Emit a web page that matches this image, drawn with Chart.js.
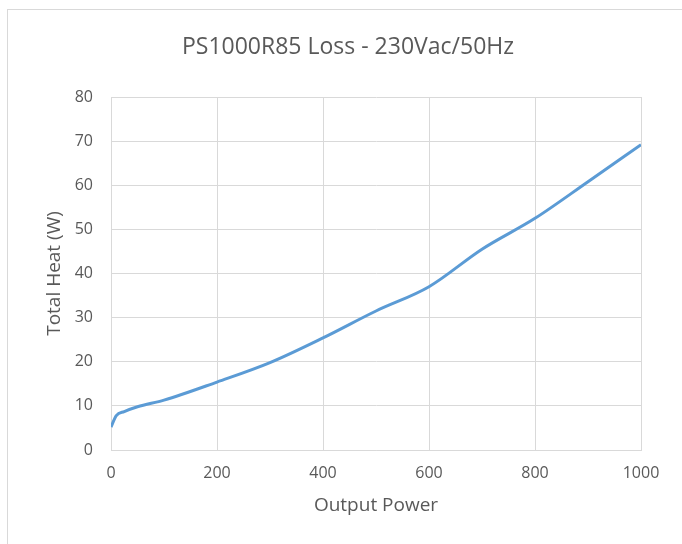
<!DOCTYPE html>
<html><head><meta charset="utf-8">
<script src="https://cdn.jsdelivr.net/npm/chart.js@4"></script>
<style>
html,body{margin:0;padding:0;background:#fff;width:682px;height:544px;overflow:hidden}
#frame{position:absolute;left:7px;top:9px;width:700px;height:560px;border:1px solid #d9d9d9;box-sizing:border-box}
#wrap{position:absolute;left:0;top:0;width:682px;height:544px}
</style></head><body>
<div id="frame"></div>
<div id="wrap"><canvas id="c" width="682" height="544"></canvas></div>
<script>
const outputPower = [0, 10, 25, 50, 100, 200, 300, 400, 500, 600, 700, 800, 900, 1000];
const totalHeat   = [5.2, 7.8, 8.7, 9.8, 11.3, 15.4, 19.8, 25.4, 31.5, 37.0, 45.5, 52.5, 60.8, 69.2];
const xTicks = [0, 200, 400, 600, 800, 1000];
const yTicks = [0, 10, 20, 30, 40, 50, 60, 70, 80];
const FONT = "'Open Sans', 'Liberation Sans', sans-serif";
const TXT = '#595959';
new Chart(document.getElementById('c'), {
  type: 'line',
  data: {
    datasets: [{
      data: outputPower.map((x, i) => ({x: x, y: totalHeat[i]})),
      borderColor: '#5B9BD5',
      borderWidth: 3,
      pointRadius: 0,
      fill: false,
      cubicInterpolationMode: 'monotone'
    }]
  },
  options: {
    responsive: false,
    animation: false,
    layout: {padding: {left: 55, right: 41, top: 0, bottom: 27}},
    plugins: {
      legend: {display: false},
      tooltip: {enabled: false},
      title: {
        display: true,
        text: 'PS1000R85 Loss - 230Vac/50Hz',
        color: TXT,
        font: {family: FONT, size: 23, weight: 'normal', lineHeight: 1.2},
        padding: {top: 34, bottom: 35.4}
      }
    },
    scales: {
      x: {
        type: 'linear', min: 0, max: 1000,
        afterBuildTicks: s => { s.ticks = xTicks.map(v => ({value: v})); },
        afterFit: s => { s.height = 67; },
        grid: {color: '#d9d9d9', lineWidth: 1, drawTicks: false},
        border: {color: '#d9d9d9'},
        ticks: {color: TXT, font: {family: FONT, size: 16}, padding: 14, maxRotation: 0, callback: v => String(v)},
        title: {display: true, text: 'Output Power', color: TXT, font: {family: FONT, size: 19}, padding: {top: 0, bottom: 0}}
      },
      y: {
        min: 0, max: 80,
        afterBuildTicks: s => { s.ticks = yTicks.map(v => ({value: v})); },
        afterFit: s => { s.width = 56; },
        grid: {color: '#d9d9d9', lineWidth: 1, drawTicks: false},
        border: {color: '#d9d9d9'},
        ticks: {color: TXT, font: {family: FONT, size: 16}, padding: 18, callback: v => String(v)},
        title: {display: true, text: 'Total Heat (W)', color: TXT, font: {family: FONT, size: 19}, padding: {top: -12, bottom: 0}}
      }
    }
  }
});
</script>
</body></html>
